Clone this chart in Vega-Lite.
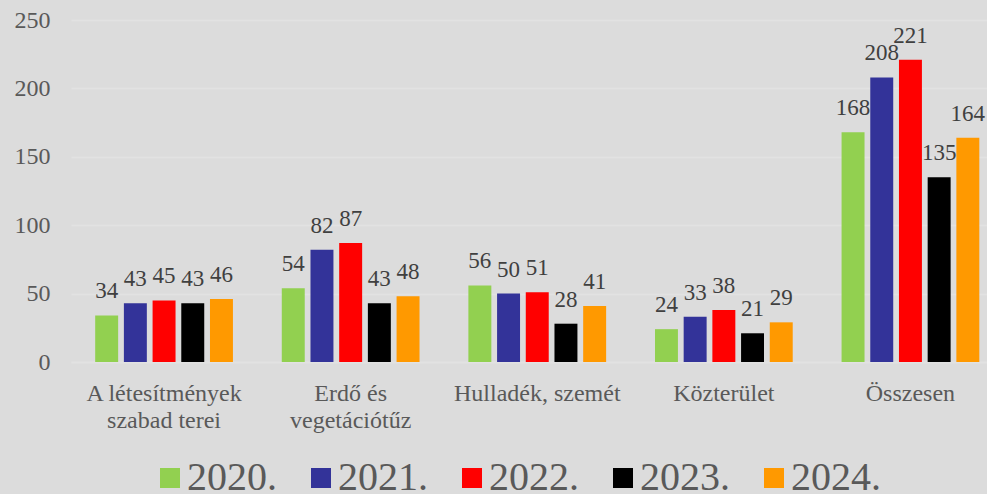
{
  "$schema": "https://vega.github.io/schema/vega-lite/v6.json",
  "width": 916,
  "height": 342,
  "autosize": {"type": "none"},
  "padding": {"left": 71, "top": 20, "right": 0, "bottom": 132},
  "background": "#dcdcdc",
  "config": {
    "font": "Liberation Serif",
    "view": {"stroke": null}
  },
  "data": {
    "values": [
      {"kat": "A létesítmények|szabad terei", "ev": "2020.", "db": 34},
      {"kat": "A létesítmények|szabad terei", "ev": "2021.", "db": 43},
      {"kat": "A létesítmények|szabad terei", "ev": "2022.", "db": 45},
      {"kat": "A létesítmények|szabad terei", "ev": "2023.", "db": 43},
      {"kat": "A létesítmények|szabad terei", "ev": "2024.", "db": 46},
      {"kat": "Erdő és|vegetációtűz", "ev": "2020.", "db": 54},
      {"kat": "Erdő és|vegetációtűz", "ev": "2021.", "db": 82},
      {"kat": "Erdő és|vegetációtűz", "ev": "2022.", "db": 87},
      {"kat": "Erdő és|vegetációtűz", "ev": "2023.", "db": 43},
      {"kat": "Erdő és|vegetációtűz", "ev": "2024.", "db": 48},
      {"kat": "Hulladék, szemét", "ev": "2020.", "db": 56},
      {"kat": "Hulladék, szemét", "ev": "2021.", "db": 50},
      {"kat": "Hulladék, szemét", "ev": "2022.", "db": 51},
      {"kat": "Hulladék, szemét", "ev": "2023.", "db": 28},
      {"kat": "Hulladék, szemét", "ev": "2024.", "db": 41},
      {"kat": "Közterület", "ev": "2020.", "db": 24},
      {"kat": "Közterület", "ev": "2021.", "db": 33},
      {"kat": "Közterület", "ev": "2022.", "db": 38},
      {"kat": "Közterület", "ev": "2023.", "db": 21},
      {"kat": "Közterület", "ev": "2024.", "db": 29},
      {"kat": "Összesen", "ev": "2020.", "db": 168},
      {"kat": "Összesen", "ev": "2021.", "db": 208},
      {"kat": "Összesen", "ev": "2022.", "db": 221},
      {"kat": "Összesen", "ev": "2023.", "db": 135},
      {"kat": "Összesen", "ev": "2024.", "db": 164}
    ]
  },
  "encoding": {
    "x": {
      "field": "kat",
      "type": "nominal",
      "sort": null,
      "scale": {"paddingInner": 0.231, "paddingOuter": 0.07, "align": 0.816},
      "axis": {
        "title": null,
        "labelAngle": 0,
        "labelExpr": "split(datum.value, '|')",
        "labelFont": "Liberation Serif",
        "labelFontSize": 24,
        "labelColor": "#595959",
        "labelLineHeight": 27,
        "labelBaseline": "alphabetic",
        "labelPadding": 38,
        "ticks": false,
        "tickSize": 0,
        "domain": true,
        "domainColor": "#e2e2e2",
        "domainWidth": 1.5
      }
    },
    "xOffset": {
      "field": "ev",
      "type": "nominal",
      "scale": {"paddingInner": 0.2, "paddingOuter": 0.1}
    },
    "y": {
      "field": "db",
      "type": "quantitative",
      "scale": {"domain": [0, 250]},
      "axis": {
        "title": null,
        "values": [0, 50, 100, 150, 200, 250],
        "labelFont": "Liberation Serif",
        "labelFontSize": 24,
        "labelColor": "#595959",
        "labelPadding": 21,
        "ticks": false,
        "tickSize": 0,
        "domain": false,
        "grid": true,
        "gridColor": "#e2e2e2",
        "gridWidth": 1.5
      }
    }
  },
  "layer": [
    {
      "mark": {"type": "bar"},
      "encoding": {
        "color": {
          "field": "ev",
          "type": "nominal",
          "scale": {
            "domain": ["2020.", "2021.", "2022.", "2023.", "2024."],
            "range": ["#92d050", "#333399", "#ff0000", "#000000", "#ff9900"]
          },
          "legend": {
            "title": null,
            "orient": "none",
            "direction": "horizontal",
            "legendX": 79,
            "legendY": 438,
            "padding": 0,
            "symbolType": "square",
            "symbolSize": 400,
            "symbolStrokeWidth": 0,
            "symbolOpacity": 1,
            "labelFont": "Liberation Serif",
            "labelFontSize": 40,
            "labelColor": "#595959",
            "labelOffset": -3,
            "columnPadding": 24
          }
        }
      }
    },
    {
      "mark": {"type": "text", "baseline": "alphabetic", "dy": -17, "fontSize": 23, "color": "#404040", "font": "Liberation Serif"},
      "encoding": {
        "text": {"field": "db", "type": "quantitative"}
      }
    }
  ]
}
